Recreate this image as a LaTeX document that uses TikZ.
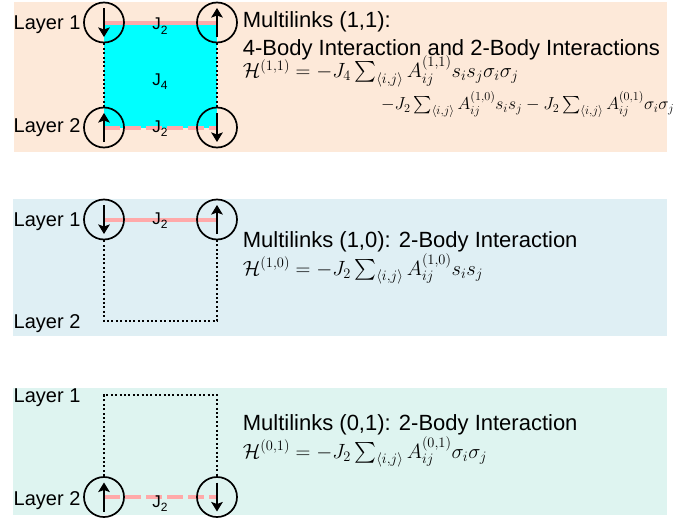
\RequirePackage{fix-cm}
\documentclass[tikz,border=0pt]{standalone}
\usepackage[no-math]{fontspec}
\setmainfont{Liberation Sans}
\usepackage{amsmath}
\usetikzlibrary{arrows.meta, calc, backgrounds}
\definecolor{peachfill}{HTML}{FDE9D9}
\definecolor{bluefill}{HTML}{DFEFF4}
\definecolor{greenfill}{HTML}{DEF4F0}
\definecolor{bondpink}{HTML}{FFA9A9}
\definecolor{plaquette}{HTML}{00FFFF}
\tikzset{
  spin/.style={circle, draw=black, line width=1.7pt, minimum size=40pt, inner sep=0pt},
  spinarrow/.style={-{Stealth[length=9.5pt, width=11.5pt, inset=2pt]}, line width=2.8pt},
  bond/.style={draw=bondpink, line width=4pt},
  bonddash/.style={bond, dash pattern=on 16pt off 5pt},
  interlayer/.style={draw=black, line width=2pt, dash pattern=on 2pt off 2.4pt},
  layerlabel/.style={font=\fontsize{20}{24}\selectfont, anchor=base west, inner sep=0pt},
  heading/.style={font=\fontsize{22}{26}\selectfont, anchor=base west, inner sep=0pt},
  eq/.style={font=\fontsize{20.6}{24}\selectfont, anchor=base west, inner sep=0pt},
  coupling/.style={font=\fontsize{17}{20}\selectfont, anchor=base, inner sep=0pt},
}
\def\spinlen{14.5pt}
\newcommand{\Jc}[1]{J\raisebox{-4.5pt}{\fontsize{12}{14}\selectfont #1}}

\begin{document}
\begin{tikzpicture}[x=1pt, y=-1pt]
\useasboundingbox (0,0) rectangle (689,525);

% Multilinks (1,1): both layers
\node[spin] (a1) at (104,22.5) {};
\node[spin] (a2) at (217,22.5) {};
\node[spin] (a3) at (104,127.5) {};
\node[spin] (a4) at (217,127.5) {};
\node[layerlabel] (a1lab) at (13.5,29.3) {Layer 1};
\node[layerlabel] (a3lab) at (13.5,132.7) {Layer 2};
\node[coupling] (ja) at (160,29.5) {\Jc{2}};
\node[coupling] (jq) at (160,85) {\Jc{4}};
\node[coupling] (jb) at (160,132) {\Jc{2}};
\node[heading] (t1a) at (242.7,27.3) {Multilinks (1,1):};
\node[heading] (t1b) at (242.7,55) {4-Body Interaction and 2-Body Interactions};
\node[eq] (e1a) at (242.7,77.5) {$\mathcal{H}^{(1,1)} = -J_4 \sum_{\langle i,j\rangle} A_{ij}^{(1,1)} s_i s_j \sigma_i \sigma_j$};
\node[eq, font=\fontsize{17.4}{21}\selectfont] (e1b) at (381,109.5) {$-J_2 \sum_{\langle i,j\rangle} A_{ij}^{(1,0)} s_i s_j - J_2 \sum_{\langle i,j\rangle} A_{ij}^{(0,1)} \sigma_i \sigma_j$};

% Multilinks (1,0): layer 1 only
\node[spin] (b1) at (104,219.5) {};
\node[spin] (b2) at (217,219.5) {};
\coordinate (low2) at (160,321);
\node[layerlabel] (b1lab) at (13.5,226) {Layer 1};
\node[layerlabel] (b3lab) at (13.5,328.3) {Layer 2};
\node[coupling] (jc) at (160,224) {\Jc{2}};
\node[heading] (t2) at (242.7,247.3) {Multilinks (1,0): 2-Body Interaction};
\node[eq] (e2) at (242.7,275) {$\mathcal{H}^{(1,0)} = -J_2 \sum_{\langle i,j\rangle} A_{ij}^{(1,0)} s_i s_j$};

% Multilinks (0,1): layer 2 only
\node[spin] (c3) at (104,497) {};
\node[spin] (c4) at (217,497) {};
\coordinate (high3) at (160,395);
\node[layerlabel] (c1lab) at (13.5,402.7) {Layer 1};
\node[layerlabel] (c3lab) at (13.5,505) {Layer 2};
\node[coupling] (jd) at (160,507) {\Jc{2}};
\node[heading] (t3) at (242.7,430) {Multilinks (0,1): 2-Body Interaction};
\node[eq] (e3) at (242.7,458) {$\mathcal{H}^{(0,1)} = -J_2 \sum_{\langle i,j\rangle} A_{ij}^{(0,1)} \sigma_i \sigma_j$};

% Spins
\foreach \n in {a1,a4,b1,c4}
  \draw[spinarrow] ([yshift=\spinlen]\n.center) -- ([yshift=-\spinlen]\n.center);
\foreach \n in {a2,a3,b2,c3}
  \draw[spinarrow] ([yshift=-\spinlen]\n.center) -- ([yshift=\spinlen]\n.center);

% Panels and bonds behind the spins
\begin{scope}[on background layer]
  \fill[peachfill] (14,2) rectangle (667,152);
  \fill[bluefill] (13,199) rectangle (666.5,336);
  \fill[greenfill] (13,388) rectangle (667,515);
  \fill[plaquette] (a1.center) rectangle (a4.center);
  \draw[bond] (a1.center) -- (a2.center);
  \draw[bonddash] (a3.center) -- (a4.center);
  \draw[interlayer] (a1.south) -- (a3.north);
  \draw[interlayer] (a2.south) -- (a4.north);
  \draw[bond] (b1.center) -- (b2.center);
  \draw[interlayer] (b1.south) |- (low2) -| (b2.south);
  \draw[bonddash] (c3.center) -- (c4.center);
  \draw[interlayer] (c3.north) |- (high3) -| (c4.north);
\end{scope}

\end{tikzpicture}
\end{document}
